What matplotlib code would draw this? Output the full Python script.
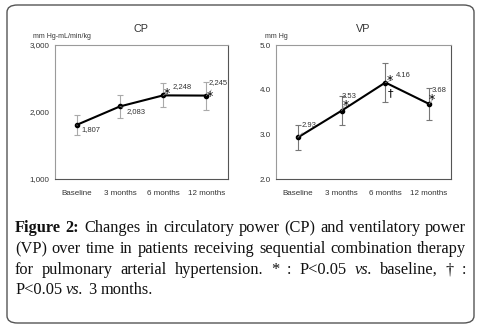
import matplotlib
matplotlib.use('Agg')
import matplotlib.pyplot as plt
from matplotlib.patches import FancyBboxPatch

# data
categories = ['Baseline', '3 months', '6 months', '12 months']
cp_mean = [1807, 2083, 2248, 2245]
cp_err = [150, 175, 180, 210]
cp_labels = ['1,807', '2,083', '2,248', '2,245']
cp_star = ['', '', '*', '*']
vp_mean = [2.93, 3.53, 4.16, 3.68]
vp_err = [0.29, 0.32, 0.43, 0.36]
vp_labels = ['2.93', '3.53', '4.16', '3.68']
vp_star = ['', '*', '*', '*']
vp_dagger = ['', '', '\u2020', '']
cp_ticks = [1000, 2000, 3000]
cp_ticklabels = ['1,000', '2,000', '3,000']
vp_ticks = [2.0, 3.0, 4.0, 5.0]
vp_ticklabels = ['2.0', '3.0', '4.0', '5.0']

W, H = 479, 328
sans = 'Liberation Sans'
serif = 'Liberation Serif'
txt_col = '#333333'


def fx(px):
    return px / W


def fy(py):
    return 1 - py / H


fig = plt.figure(figsize=(W / 100, H / 100), dpi=100)

# outer rounded frame
frame = FancyBboxPatch((fx(7), fy(323)), fx(467), 318 / H,
                       boxstyle='round,pad=0,rounding_size=0.022',
                       transform=fig.transFigure, facecolor='none',
                       edgecolor='#555555', linewidth=1.0)
fig.patches.append(frame)


def make_panel(left, right, title, unit, unit_x, means, errs, labels,
               ticks, ticklabels, ylim, ecolor):
    ax = fig.add_axes([fx(left), fy(179), fx(right - left), (179 - 45) / H])
    x = list(range(len(categories)))
    ax.errorbar(x, means, yerr=errs, fmt='none', ecolor=ecolor,
                elinewidth=0.8, capsize=2, capthick=0.8, zorder=2)
    ax.plot(x, means, color='black', linewidth=1.5, marker='o',
            markersize=3, zorder=3)
    ax.set_xlim(-0.5, len(categories) - 0.5)
    ax.set_ylim(*ylim)
    ax.set_xticks(x)
    ax.set_xticklabels(categories, fontsize=5.8, family=sans, color=txt_col)
    ax.set_yticks(ticks)
    ax.set_yticklabels(ticklabels, fontsize=5.8, family=sans, color=txt_col)
    ax.tick_params(axis='x', length=0, pad=8)
    ax.tick_params(axis='y', length=0, pad=4)
    for s in ['left', 'top']:
        ax.spines[s].set_color('#9a9a9a')
    for s in ['right', 'bottom']:
        ax.spines[s].set_color('#555555')
    for s in ax.spines.values():
        s.set_linewidth(0.8)
    ax.set_title(title, fontsize=7.8, family=sans, color=txt_col, pad=9)
    fig.text(fx(unit_x), fy(37), unit, fontsize=5, family=sans,
             color=txt_col, va='center', ha='left')
    return ax


def label(ax, x, y, s, off, size=5.5, line=True):
    kw = dict(arrowprops=dict(arrowstyle='-', color='#999999', lw=0.5,
                              shrinkA=1, shrinkB=0)) if line else {}
    ax.annotate(s, (x, y), xytext=off, textcoords='offset pixels',
                fontsize=size, family=sans, color=txt_col,
                ha='left', va='center', **kw)


def mark(ax, x, y, s, off, size=9):
    ax.annotate(s, (x, y), xytext=off, textcoords='offset pixels',
                fontsize=size, family='DejaVu Sans', color='black',
                ha='center', va='center')


ax1 = make_panel(55, 228, 'CP', 'mm Hg-mL/min/kg', 33, cp_mean, cp_err,
                 cp_labels, cp_ticks, cp_ticklabels, (1000, 3000), '#aaaaaa')
cp_off = [(5, -5), (7, -5), (9, 9), (2, 13)]
cp_star_off = [(0, 0), (0, 0), (4, 2), (3, -1)]
for i in range(len(categories)):
    label(ax1, i, cp_mean[i], cp_labels[i], cp_off[i])
    if cp_star[i]:
        mark(ax1, i, cp_mean[i], cp_star[i], cp_star_off[i])

ax2 = make_panel(276, 451, 'VP', 'mm Hg', 265, vp_mean, vp_err,
                 vp_labels, vp_ticks, vp_ticklabels, (2.0, 5.0), '#777777')
vp_off = [(4, 12), (0, 14), (11, 7), (3, 13)]
vp_star_off = [(0, 0), (4, 5), (4, 2), (3, 4)]
for i in range(len(categories)):
    label(ax2, i, vp_mean[i], vp_labels[i], vp_off[i])
    if vp_star[i]:
        mark(ax2, i, vp_mean[i], vp_star[i], vp_star_off[i])
    if vp_dagger[i]:
        mark(ax2, i, vp_mean[i], vp_dagger[i], (5, -11), size=8)

# caption, justified line by line
cap_size = 11.8
B = dict(fontweight='bold')
I = dict(fontstyle='italic')
N = {}
cap_lines = [
    [('Figure', B), ('2:', B), ('Changes', N), ('in', N), ('circulatory', N),
     ('power', N), ('(CP)', N), ('and', N), ('ventilatory', N), ('power', N)],
    [(w, N) for w in '(VP) over time in patients receiving sequential combination therapy'.split()],
    [(w, N) for w in 'for pulmonary arterial hypertension. * : P<0.05'.split()]
    + [('vs.', I)] + [(w, N) for w in 'baseline, \u2020 :'.split()],
    [('P<0.05', N), ('vs.', I), ('3', N), ('months.', N)],
]
cap_base = [232, 253, 274, 294]

renderer = fig.canvas.get_renderer()
for k, words in enumerate(cap_lines):
    texts = [fig.text(0, fy(cap_base[k]), w, fontsize=cap_size, family=serif,
                      va='baseline', ha='left', color='#111111', **kw)
             for w, kw in words]
    widths = [t.get_window_extent(renderer).width for t in texts]
    if k < len(cap_lines) - 1:
        gap = (466 - 15 - sum(widths)) / (len(texts) - 1)
    else:
        gap = cap_size * 0.25 * 100 / 72
    xpos = 15
    for t, w in zip(texts, widths):
        t.set_x(fx(xpos))
        xpos += w + gap

fig.savefig('out.png', dpi=100)
